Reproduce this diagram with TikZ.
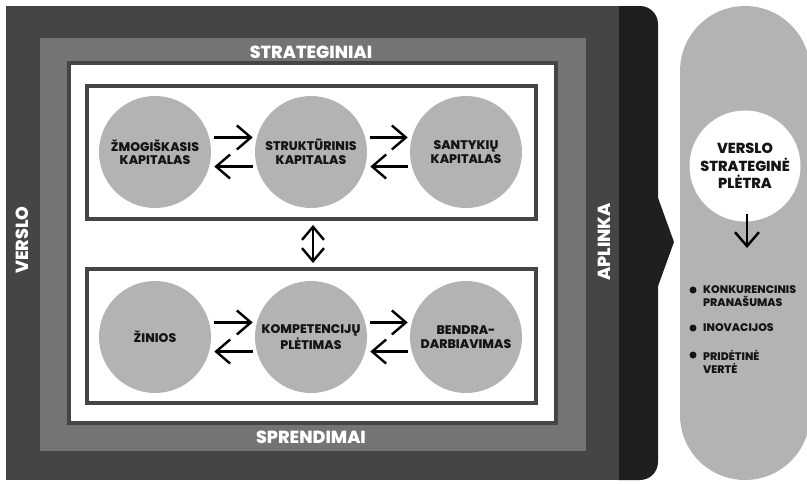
\documentclass[tikz,border=0pt]{standalone}
\usepackage{fontspec}
\setmainfont{Poppins}[BoldFont={Poppins ExtraBold}]
\usepackage{tikz}
\usetikzlibrary{arrows.meta,positioning}

\definecolor{FrameDark}{HTML}{454545}
\definecolor{FrameMid}{HTML}{747474}
\definecolor{EnvBlack}{HTML}{1F1F1F}
\definecolor{CircGray}{HTML}{B3B3B3}
\definecolor{TextDark}{HTML}{151515}

\begin{document}
\begin{tikzpicture}[x=1pt,y=-1pt]
	\tikzstyle{Circ}	= [circle, fill=CircGray, minimum size=112pt, inner sep=0pt, align=center, text=TextDark, font=\fontsize{12.5}{13.5}\selectfont\bfseries]
	\tikzstyle{Box}		= [rectangle, draw=FrameDark, line width=4pt, fill=white, inner sep=0pt]
	\tikzstyle{Band}	= [text=white, inner sep=0pt, font=\fontsize{17.5}{18}\selectfont\bfseries]
	\tikzstyle{Item}	= [anchor=west, align=left, inner sep=0pt, text=TextDark, font=\fontsize{11}{13}\selectfont\bfseries]
	\tikzstyle{Arr}		= [-{Straight Barb[length=14pt, width=24pt]}, line width=2.4pt, black]
	\tikzstyle{ArrBoth}	= [{Straight Barb[length=13pt, width=22pt]}-{Straight Barb[length=13pt, width=22pt]}, line width=2.4pt, black]

	\useasboundingbox (0,0) rectangle (807,483);

	% environment shape and outer frames
	\fill[EnvBlack, rounded corners=18pt] (600,6) rectangle (658,480);
	\fill[EnvBlack] (657,195) -- (674,242) -- (657,289) -- cycle;
	\fill[FrameDark] (6,6) rectangle (619,480);
	\fill[FrameMid] (40,38) rectangle (586,451);
	\filldraw[fill=white, draw=FrameDark, line width=4pt] (69,63) rectangle (556,423);

	\node (strat) at (311,52) [Band] {STRATEGINIAI};
	\node (spren) at (311,437) [Band] {SPRENDIMAI};
	\node (versl) at (22,240) [Band, rotate=90] {VERSLO};
	\node (aplin) at (604,242) [Band, rotate=90] {APLINKA};

	% capital boxes
	\node (top) at (311,152.5) [Box, minimum width=449pt, minimum height=133pt] {};
	\node (bot) at (311.5,336) [Box, minimum width=449pt, minimum height=134pt] {};

	\node (hk) at (155,152) [Circ] {ŽMOGIŠKASIS\\KAPITALAS};
	\node (sk) at (311,152) [Circ] {STRUKTŪRINIS\\KAPITALAS};
	\node (rk) at (466,152) [Circ] {SANTYKIŲ\\KAPITALAS};

	\node (zin) at (155,337) [Circ] {ŽINIOS};
	\node (komp) at (311,337) [Circ] {KOMPETENCIJŲ\\PLĖTIMAS};
	\node (bend) at (466,337) [Circ] {BENDRA-\\DARBIAVIMAS};

	\draw [Arr, shorten <=5pt, shorten >=4pt] (hk.15) to (sk.165);
	\draw [Arr, shorten <=4pt, shorten >=5pt] (sk.-165) to (hk.-15);
	\draw [Arr, shorten <=5pt, shorten >=4pt] (sk.15) to (rk.165);
	\draw [Arr, shorten <=4pt, shorten >=5pt] (rk.-165) to (sk.-15);

	\draw [Arr, shorten <=5pt, shorten >=4pt] (zin.15) to (komp.165);
	\draw [Arr, shorten <=4pt, shorten >=5pt] (komp.-165) to (zin.-15);
	\draw [Arr, shorten <=5pt, shorten >=4pt] (komp.15) to (bend.165);
	\draw [Arr, shorten <=4pt, shorten >=5pt] (bend.-165) to (komp.-15);

	\draw [ArrBoth, shorten <=4pt, shorten >=4pt] (top.south -| 313,0) to (bot.north -| 313,0);

	% result capsule
	\fill[CircGray, rounded corners=65pt] (680,6) rectangle (810,480);
	\node (vsp) at (745,166) [circle, fill=white, minimum size=111pt, inner sep=0pt, align=center, text=TextDark, font=\fontsize{14.5}{17.5}\selectfont\bfseries] {VERSLO\\STRATEGINĖ\\PLĖTRA};
	\coordinate (res) at (747,248);
	\draw [Arr] (vsp.south -| res) to (res) [shorten <=-8pt];

	\node (b1) at (703,296.5) [Item] {KONKURENCINIS\\PRANAŠUMAS};
	\node (b2) at (703,328) [Item] {INOVACIJOS};
	\node (b3) at (703,361.5) [Item] {PRIDĖTINĖ\\VERTĖ};
	\fill[TextDark] (693,290) circle (3.5pt);
	\fill[TextDark] (693,328) circle (3.5pt);
	\fill[TextDark] (693,355) circle (3.5pt);
\end{tikzpicture}
\end{document}
